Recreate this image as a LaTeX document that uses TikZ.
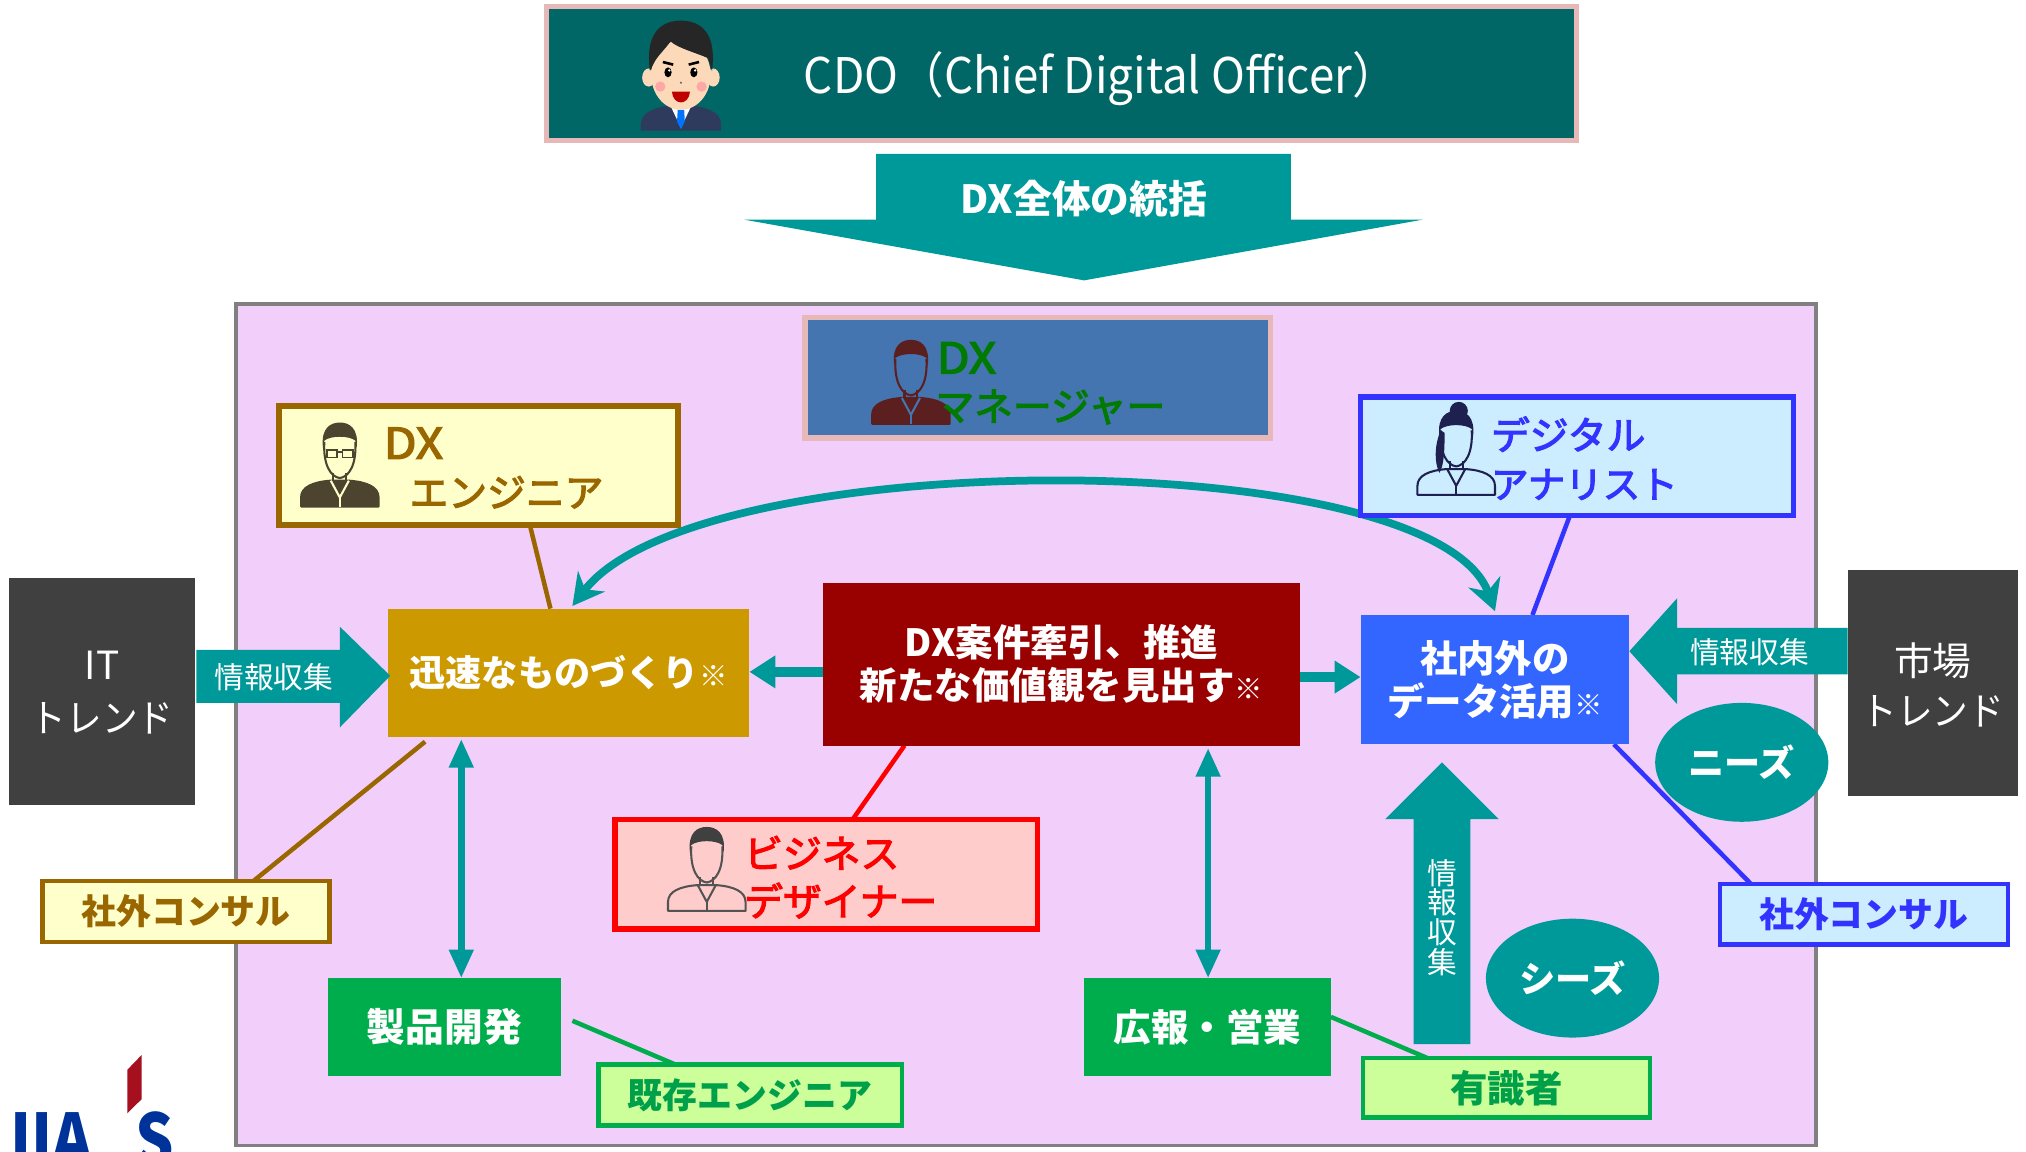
\documentclass[tikz,border=0pt]{standalone}
\usepackage{fontspec}
\usepackage{graphicx}
\usetikzlibrary{arrows.meta,calc,shapes.geometric}
\newfontfamily\jp{Noto Sans CJK JP}
\newfontfamily\jpm{Noto Sans CJK JP}[FakeBold=3]
\newcommand\fsz[1]{\fontsize{#1}{#1}\selectfont}

\definecolor{cdoteal}{HTML}{006666}
\definecolor{tealc}{HTML}{009999}
\definecolor{pinkedge}{HTML}{E6B9B8}
\definecolor{lilac}{HTML}{F2CEFB}
\definecolor{framegray}{HTML}{808080}
\definecolor{steel}{HTML}{4575B0}
\definecolor{mgrgreen}{HTML}{007A00}
\definecolor{mgrmaroon}{HTML}{5C1F1F}
\definecolor{brownc}{HTML}{996600}
\definecolor{olivedark}{HTML}{4D4430}
\definecolor{creamc}{HTML}{FFFFCC}
\definecolor{bluec}{HTML}{3333FF}
\definecolor{skyc}{HTML}{CCECFF}
\definecolor{charcoal}{HTML}{404040}
\definecolor{goldc}{HTML}{CC9900}
\definecolor{darkredc}{HTML}{990000}
\definecolor{datablue}{HTML}{3366FF}
\definecolor{greenc}{HTML}{00AD4D}
\definecolor{greentext}{HTML}{00A04A}
\definecolor{limec}{HTML}{CCFF99}
\definecolor{rosec}{HTML}{FFCCCC}
\definecolor{redc}{HTML}{FF0000}
\definecolor{logoblue}{HTML}{003399}
\definecolor{logored}{HTML}{A50F1E}
\definecolor{skin}{HTML}{FCD9B8}
\definecolor{hairnavy}{HTML}{1E2050}
\definecolor{suitnavy}{HTML}{2E3B5C}

\pgfdeclarelayer{back}
\pgfdeclarelayer{mid}
\pgfsetlayers{back,mid,main}

% simple bust: x, y (top centre), line colour, hair fill, body fill, collar colour
\newcommand\bust[6]{%
\begin{scope}[shift={(#1,#2)}, line width=1.6pt, line join=round]
  \filldraw[draw=#3, fill=#5] (-30,64) -- (-30,57) .. controls (-30,49) and (-21,45) .. (-7,44)
     -- (7,44) .. controls (21,45) and (30,49) .. (30,57) -- (30,64) -- cycle;
  \draw[#6] (-7,44) -- (0,57) -- (7,44);
  \draw[#6] (0,57) -- (0,64);
  \draw[#3] (-5,38) -- (-5,44) (5,38) -- (5,44);
  \draw[#3] (-12,14) .. controls (-13,32) and (-7,41) .. (0,42) .. controls (7,41) and (13,32) .. (12,14);
  \fill[#4] (-13,19) .. controls (-15,3) and (-7,-1) .. (0,-1) .. controls (7,-1) and (15,3) .. (13,19)
     -- (12,13) .. controls (7,9) and (-7,9) .. (-12,13) -- cycle;
\end{scope}}

\tikzset{
  box/.style={inner sep=0pt, outer sep=0pt},
  solid/.style={box, fill=#1, text=white, font=\jp\bfseries\fsz{28}},
  framed/.style 2 args={box, draw=#1, fill=#2, line width=4pt},
  bubble/.style={ellipse, box, fill=tealc, text=white, font=\jp\bfseries\fsz{28},
     minimum width=134pt, minimum height=92pt},
  link/.style={line width=3.5pt},
  flow/.style={tealc, line width=8pt, -{Triangle[length=20pt,width=24pt]}},
  twoway/.style={tealc, line width=5pt,
     {Triangle[length=22pt,width=18pt]}-{Triangle[length=22pt,width=18pt]}},
  lbl/.style={box, anchor=west},
  note/.style={box, text=white, font=\jp\fsz{23}},
}

\begin{document}
\begin{tikzpicture}[x=1pt,y=-1pt]
\useasboundingbox (0,0) rectangle (1568,891);

% ---------- CDO ----------
\node[framed={pinkedge}{cdoteal}, minimum width=797pt, minimum height=104pt] (cdo) at (821.5,57) {};
\node[box, text=white, font=\jp\fsz{38}] (cdotext) at (852,61)
  {\scalebox{0.93}[1]{CDO（Chief Digital Officer）}};
% cartoon officer
\begin{scope}[shift={(527,15)}]
  \fill[suitnavy] (-31,86) -- (-31,80) .. controls (-30,72) and (-20,68) .. (-10,67)
     -- (10,67) .. controls (20,68) and (30,72) .. (31,80) -- (31,86) -- cycle;
  \fill[white] (-8,67) -- (0,84) -- (8,67) -- cycle;
  \fill[blue!55!cyan] (-2.5,70) -- (2.5,70) -- (3,79) -- (0,85) -- (-3,79) -- cycle;
  \fill[skin] (-5,60) rectangle (5,69);
  \fill[skin] (-25,45) ellipse (5 and 7) (25,45) ellipse (5 and 7);
  \fill[skin] (0,43) ellipse (23 and 27);
  \fill[black!85] (-24,40) .. controls (-28,10) and (-15,1) .. (0,1) .. controls (15,1) and (28,10) .. (24,40)
     -- (21,30) .. controls (12,26) and (-3,22) .. (-8,17) .. controls (-13,24) and (-18,28) .. (-21,34) -- cycle;
  \draw[black, line width=2pt] (-14,33) -- (-6,35) (6,35) -- (14,33);
  \fill[black] (-10,41) ellipse (2.8 and 3.8) (10,41) ellipse (2.8 and 3.8);
  \fill[white] (-9,39.5) circle (1) (11,39.5) circle (1);
  \fill[red!35] (-16,52) circle (4) (16,52) circle (4);
  \fill[black!60] (0,49) circle (0.9);
  \fill[red!75!black] (-7,56) .. controls (-6,67) and (6,67) .. (7,56) -- cycle;
\end{scope}

% ---------- governing arrow ----------
\fill[tealc] (678,119) -- (999,119) -- (999,170) -- (1101,170) -- (839,217) -- (576,170) -- (678,170) -- cycle;
\node[box, text=white, font=\jp\bfseries\fsz{30}] (govern) at (839,154) {DX全体の統括};

% ---------- organisation area ----------
\begin{pgfonlayer}{back}
\node[box, draw=framegray, fill=lilac, line width=3pt, minimum width=1223pt, minimum height=651pt] (org) at (794,561) {};
\end{pgfonlayer}

% ---------- role boxes ----------
\node[framed={pinkedge}{steel}, minimum width=360pt, minimum height=93pt] (manager) at (803,292.5) {};
\bust{705}{264}{mgrmaroon}{mgrmaroon}{mgrmaroon}{steel}
\node[lbl, text=mgrgreen, font=\jpm\fsz{33}] (mgrdx) at (725,277) {\scalebox{1.12}[1]{DX}};
\node[lbl, text=mgrgreen, font=\jpm\fsz{30}] (mgrjp) at (724,315) {マネージャー};

\node[framed={brownc}{creamc}, line width=4.5pt, minimum width=309pt, minimum height=92pt] (engineer) at (370.5,360) {};
\bust{263}{328}{olivedark}{olivedark}{olivedark}{creamc}
\draw[olivedark, line width=1.4pt] (253,348) rectangle (261,354) (265,348) rectangle (273,354) (261,350) -- (265,350);
\node[lbl, text=brownc, font=\jpm\fsz{33}] (engdx) at (297,343) {\scalebox{1.12}[1]{DX}};
\node[lbl, text=brownc, font=\jpm\fsz{30}] (engjp) at (317,381) {エンジニア};

\node[framed={bluec}{skyc}, line width=4.5pt, minimum width=335pt, minimum height=92pt] (analyst) at (1220.5,353) {};
\bust{1127}{319}{hairnavy}{hairnavy}{none}{hairnavy}
\fill[hairnavy] (1115,333) .. controls (1110,345) and (1110,358) .. (1114,366) .. controls (1118,360) and (1118,345) .. (1118,335) -- cycle;
\fill[hairnavy] (1129,318) circle (7);
\node[lbl, text=bluec, font=\jpm\fsz{30}] (anajp1) at (1154,336) {デジタル};
\node[lbl, text=bluec, font=\jpm\fsz{29}] (anajp2) at (1154,375) {アナリスト};

\node[framed={redc}{rosec}, minimum width=327pt, minimum height=85pt] (designer) at (639.5,676.5) {};
\bust{547}{641}{charcoal!90}{charcoal}{none}{charcoal!90}
\node[lbl, text=redc, font=\jpm\fsz{30}] (desjp1) at (576,660) {ビジネス};
\node[lbl, text=redc, font=\jpm\fsz{30}] (desjp2) at (576,697) {デザイナー};

% ---------- outside trends ----------
\node[solid=charcoal, minimum width=144pt, minimum height=176pt] (ittrend) at (79,535) {};
\node[box, text=white, font=\jp\fsz{30}, align=center] (ittext) at (79,536)
  {IT\\[11pt]\scalebox{0.92}[1]{トレンド}};
\node[solid=charcoal, minimum width=132pt, minimum height=175pt] (market) at (1496,528.5) {};
\node[box, text=white, font=\jp\fsz{30}, align=center] (markettext) at (1496,530)
  {市場\\[9pt]\scalebox{0.92}[1]{トレンド}};

% ---------- central activities ----------
\node[solid=goldc, minimum width=280pt, minimum height=99pt] (quick) at (440,520.5)
  {迅速なものづくり{\mdseries\fsz{22}※}};
\node[solid=darkredc, minimum width=369pt, minimum height=126pt, align=center, font=\jp\bfseries\fsz{29}] (drive) at (821.5,514)
  {DX案件牽引、推進\\[4pt]新たな価値観を見出す{\mdseries\fsz{22}※}};
\node[solid=datablue, minimum width=208pt, minimum height=100pt, align=center, font=\jp\bfseries\fsz{29}] (data) at (1157,526)
  {社内外の\\[4pt]データ活用{\mdseries\fsz{22}※}};
\node[solid=greenc, minimum width=180pt, minimum height=76pt, font=\jp\bfseries\fsz{30}] (product) at (344,795) {製品開発};
\node[solid=greenc, minimum width=191pt, minimum height=76pt, font=\jp\bfseries\fsz{29}] (sales) at (934.5,795) {広報・営業};

\node[bubble] (needs) at (1348,590) {ニーズ};
\node[bubble] (seeds) at (1217,757) {シーズ};

% ---------- advisers ----------
\node[framed={brownc}{creamc}, line width=3.5pt, minimum width=222pt, minimum height=47pt,
  text=brownc, font=\jp\bfseries\fsz{27}] (consultl) at (144,705.5) {社外コンサル};
\node[framed={bluec}{skyc}, line width=3.5pt, minimum width=223pt, minimum height=47pt,
  text=bluec, font=\jp\bfseries\fsz{27}] (consultr) at (1442.5,707.5) {社外コンサル};
\node[framed={greenc}{limec}, line width=3.5pt, minimum width=235pt, minimum height=47pt,
  text=greentext, font=\jp\bfseries\fsz{27}] (veteran) at (580.5,847.5) {既存エンジニア};
\node[framed={greenc}{limec}, line width=3.5pt, minimum width=222pt, minimum height=46pt,
  text=greentext, font=\jp\bfseries\fsz{29}] (expert) at (1166,842) {有識者};

% ---------- connecting lines ----------
\begin{pgfonlayer}{mid}
\draw[link, brownc] ($(engineer.south)+(39.5,0)$) -- ($(quick.north)+(-14,0)$);
\draw[link, brownc] ($(quick.south west)+(29,4)$) -- ($(consultl.north)+(52,0)$);
\draw[link, redc] ($(drive.south west)+(63,0)$) -- ($(designer.north)+(20.5,0)$);
\draw[link, bluec] ($(analyst.south)+(-5.5,0)$) -- ($(data.north)+(29,0)$);
\draw[link, bluec] ($(data.south east)+(-12,0)$) -- ($(consultr.north west)+(24,0)$);
\draw[link, greenc] ($(product.east)+(9,-5)$) -- ($(veteran.north west)+(60,0)$);
\draw[link, greenc] ($(sales.east)+(0,-8)$) -- ($(expert.north west)+(50,0)$);

% flows between activities
\draw[flow] ($(drive.west)+(0,6)$) -- (quick.east |- 0,520);
\draw[flow] ($(drive.east)+(0,10)$) -- (data.west |- 0,524);
\draw[twoway] ($(quick.south)+(-83,2)$) -- ($(product.north)+(13,0)$);
\draw[twoway] ($(drive.south)+(113.5,2)$) -- ($(sales.north)+(0.5,0)$);
\draw[tealc, line width=6pt, {Stealth[length=24pt,width=26pt]}-{Stealth[length=24pt,width=26pt]}]
  ($(quick.north)+(3,-2)$) .. controls (540,343) and (1110,343) .. ($(data.north)+(0,-3)$);
\end{pgfonlayer}

% ---------- information gathering ----------
\fill[tealc] (152,503) -- (263,503) -- (263,485) -- (302,523) -- (263,563) -- (263,544) -- (152,544) -- cycle;
\node[note] (infoleft) at (212,524) {情報収集};
\fill[tealc] (1430,486) -- (1298,486) -- (1298,463) -- (1261,504) -- (1298,545) -- (1298,522) -- (1430,522) -- cycle;
\node[note] (inforight) at (1354,505) {情報収集};
\fill[tealc] (1094,808) -- (1094,634) -- (1072,634) -- (1116,590) -- (1160,634) -- (1138,634) -- (1138,808) -- cycle;
\node[note, align=center, font=\jp\fsz{23}] (infoup) at (1116,710)
  {\fontsize{23}{24}\selectfont 情\\報\\収\\集};

% ---------- logo ----------
\fill[logored] (98.5,828) -- (109.6,816.5) -- (109.6,850.7) -- (98.5,861.6) -- cycle;
\node[box, anchor=base west, text=logoblue, font=\jp\bfseries\fsz{55}] (logoa) at (8,902)
  {\scalebox{0.85}[1]{IIA}};
\node[box, anchor=base west, text=logoblue, font=\jp\bfseries\fsz{55}] (logob) at (105,902)
  {\scalebox{0.85}[1]{S}};
\end{tikzpicture}
\end{document}
